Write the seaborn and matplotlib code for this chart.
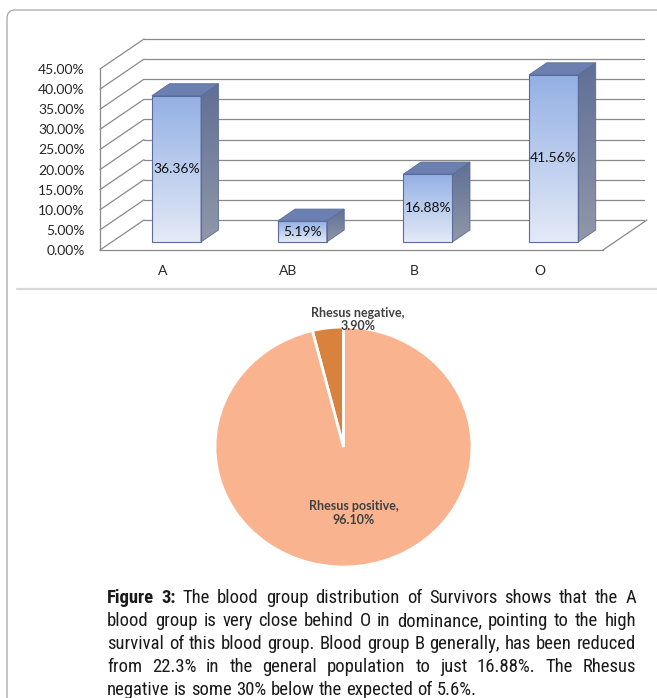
import numpy as np
import matplotlib
matplotlib.use("Agg")
import matplotlib.pyplot as plt
import seaborn as sns
from matplotlib.patches import Polygon, FancyBboxPatch
from matplotlib.colors import LinearSegmentedColormap
from matplotlib.font_manager import FontProperties, findfont
from matplotlib.lines import Line2D

# data
blood_groups = ["A", "AB", "B", "O"]
survivor_pct = [36.36, 5.19, 16.88, 41.56]
pct_ticks = [0, 5, 10, 15, 20, 25, 30, 35, 40, 45]
rhesus_labels = ["Rhesus negative", "Rhesus positive"]
rhesus_pct = [3.90, 96.10]
caption_lines = [
    "Figure 3: The blood group distribution of Survivors shows that the A",
    "blood group is very close behind O in dominance, pointing to the high",
    "survival of this blood group. Blood group B generally, has been reduced",
    "from 22.3% in the general population to just 16.88%. The Rhesus",
    "negative is some 30% below the expected of 5.6%.",
]


def has_font(name):
    try:
        findfont(FontProperties(family=name), fallback_to_default=False)
        return True
    except Exception:
        return False


sns.set_style("white")
chart_font = "Lato" if has_font("Lato") else "DejaVu Sans"
plt.rcParams["font.family"] = [chart_font, "DejaVu Sans"]

W, H = 657, 698
fig = plt.figure(figsize=(W / 100, H / 100), dpi=100)

# outer frame and separator
frame = FancyBboxPatch((7 / W, -0.05), 1.1, (H - 10) / H + 0.05,
                       boxstyle="round,pad=0,rounding_size=0.012",
                       transform=fig.transFigure, facecolor="none",
                       edgecolor="#a6a6a6", linewidth=0.9)
fig.patches.append(frame)
fig.lines.append(Line2D([17 / W, 1.0], [(H - 289) / H] * 2, transform=fig.transFigure,
                        color="#d9d9d9", linewidth=1.6))

# ---------------- 3D-looking bar chart ----------------
px_cat, px_pct = 125.75, 4.022
DX, DY = 44 / px_cat, 30 / px_pct          # wall depth
BX, BY = 0.108, 2.0                        # bar set back from front plane
BDX, BDY = 17.5 / px_cat, 12 / px_pct      # bar depth
x_hi, y_hi = 3.86, 54
ax = fig.add_axes([100 / W, (H - 250) / H, (x_hi + 0.5) * px_cat / W, y_hi * px_pct / H])

sns.barplot(x=blood_groups, y=survivor_pct, ax=ax, width=0.39, color="#a9bfe8",
            edgecolor="#5b6b9b", linewidth=0.8, zorder=4)

grid_c = "#8a8a8a"
for t in pct_ticks:
    ax.plot([-0.5 + DX, x_hi - 0.03], [t + DY, t + DY], color=grid_c, lw=0.9, zorder=1, clip_on=False)
    ax.plot([-0.5, -0.5 + DX], [t, t + DY], color=grid_c, lw=0.9, zorder=1, clip_on=False)
ax.plot([3.5, 3.5 + DX], [0, DY], color=grid_c, lw=0.9, zorder=1, clip_on=False)

front_cmap = LinearSegmentedColormap.from_list("front", ["#e4eaf7", "#93b0e4"])
side_cmap = LinearSegmentedColormap.from_list("side", ["#9098a8", "#5f6f95"])
grad = np.linspace(0, 1, 256).reshape(-1, 1)

for p, val in zip(ax.patches, survivor_pct):
    p.set_x(p.get_x() + BX)
    p.set_y(BY)
    x0, w, h = p.get_x(), p.get_width(), p.get_height()
    x1, y0, y1 = x0 + w, BY, BY + h
    p.set_facecolor("none")
    ax.imshow(grad, extent=[x0, x1, y0, y1], origin="lower", aspect="auto",
              cmap=front_cmap, zorder=3, interpolation="bilinear")
    side = Polygon([(x1, y0), (x1 + BDX, y0 + BDY), (x1 + BDX, y1 + BDY), (x1, y1)],
                   closed=True, facecolor="none", edgecolor="#5b6b9b", lw=0.6, zorder=4)
    ax.add_patch(side)
    im = ax.imshow(grad, extent=[x1, x1 + BDX, y0, y1 + BDY], origin="lower", aspect="auto",
                   cmap=side_cmap, zorder=3, interpolation="bilinear")
    im.set_clip_path(side)
    top = Polygon([(x0, y1), (x1, y1), (x1 + BDX, y1 + BDY), (x0 + BDX, y1 + BDY)],
                  closed=True, facecolor="#6b80b0", edgecolor="#5b6b9b", lw=0.6, zorder=4)
    ax.add_patch(top)
    ax.text(x0 + w / 2, y0 + h / 2, f"{val:.2f}%", ha="center", va="center",
            fontsize=10, color="#111111", zorder=5)

ax.set_xlim(-0.5, x_hi)
ax.set_ylim(0, y_hi)
ax.set_yticks(pct_ticks)
ax.set_yticklabels([f"{t:.2f}%" for t in pct_ticks])
ax.set_xticks(range(len(blood_groups)))
ax.set_xticklabels(blood_groups)
ax.set_xticks(np.arange(-0.5, 4, 1.0), minor=True)
ax.tick_params(axis="x", which="major", length=0, pad=11, labelsize=10)
ax.tick_params(axis="x", which="minor", length=4, color=grid_c, direction="out")
ax.tick_params(axis="y", length=3, color=grid_c, direction="out", pad=8, labelsize=10)
ax.set_xlabel("")
ax.set_ylabel("")
for s in ["top", "right"]:
    ax.spines[s].set_visible(False)
ax.spines["left"].set_bounds(0, 45)
ax.spines["bottom"].set_bounds(-0.5, 3.5)
for s in ["left", "bottom"]:
    ax.spines[s].set_color(grid_c)
    ax.spines[s].set_linewidth(0.9)
ax.patch.set_alpha(0)

# ---------------- pie chart ----------------
pax = fig.add_axes([215 / W, (H - 567) / H, 257 / W, 240 / H])
pax.pie(rhesus_pct, colors=["#d9823e", "#f9b48f"], startangle=90, counterclock=True,
        wedgeprops=dict(edgecolor="white", linewidth=2))
pax.set_aspect("auto")
pax.set_xlim(-1, 1)
pax.set_ylim(-1, 1)
pax.text(0.11, 1.06, f"{rhesus_labels[0]},\n{rhesus_pct[0]:.2f}%", ha="center", va="center",
         fontsize=9, fontweight="bold", color="#404040", linespacing=1.1)
pax.text(0.08, -0.55, f"{rhesus_labels[1]},\n{rhesus_pct[1]:.2f}%", ha="center", va="center",
         fontsize=9, fontweight="bold", color="#404040", linespacing=1.1)

# ---------------- justified caption ----------------
cap_font = "Liberation Sans"
for cand in ["Liberation Sans Narrow", "Roboto Condensed", "Archivo Narrow", "PT Sans Narrow"]:
    if has_font(cand):
        cap_font = cand
        break
renderer = fig.canvas.get_renderer()
left_px, right_px = 107, 636


def word_width(s, size, weight):
    t = fig.text(0, 0, s, fontsize=size, fontweight=weight, family=cap_font)
    w = t.get_window_extent(renderer).width
    t.remove()
    return w


cap_size = 13
natural = max(word_width(line, cap_size, "normal") for line in caption_lines)
cap_size = min(14.0, cap_size * (right_px - left_px) * 0.985 / natural)
space_w = word_width("a a", cap_size, "normal") - word_width("aa", cap_size, "normal")

for i, line in enumerate(caption_lines):
    words = line.split(" ")
    weights = ["bold" if (i == 0 and j < 2) else "normal" for j in range(len(words))]
    widths = [word_width(w, cap_size, wt) for w, wt in zip(words, weights)]
    if i < len(caption_lines) - 1:
        gap = (right_px - left_px - sum(widths)) / (len(words) - 1)
    else:
        gap = space_w
    x = left_px
    y = H - (603 + 23 * i)
    for w, wt, ww in zip(words, weights, widths):
        fig.text(x / W, y / H, w, fontsize=cap_size, fontweight=wt, family=cap_font,
                 color="#1a1a1a", ha="left", va="baseline")
        x += ww + gap

fig.savefig("out.png", dpi=100)
